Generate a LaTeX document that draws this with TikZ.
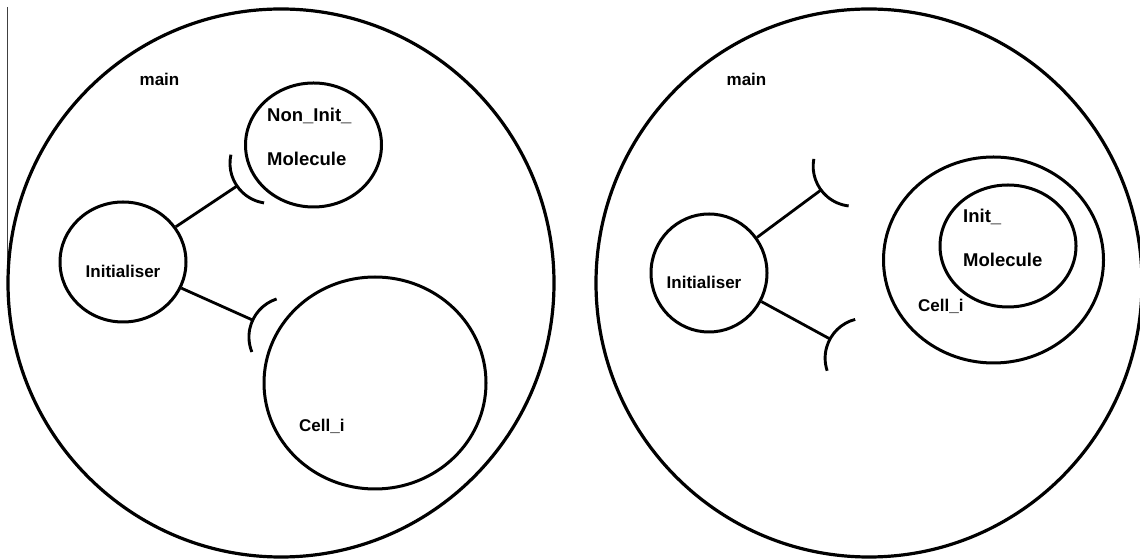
\documentclass[tikz,border=0pt]{standalone}
\usepackage{fontspec}
\setmainfont{Liberation Sans}
\usetikzlibrary{shapes.geometric}
% socket arc: #1 = point where the wire ends, #2 = direction (deg) from arc centre to that point
\newcommand\sockarc[2]{%
  \draw[sockline] (#1) ++(#2+180:40) ++(#2-47:40)
    arc[start angle=#2-47, end angle=#2+47, radius=40];}
\begin{document}
\begin{tikzpicture}[x=1pt,y=1pt,
  frame/.style={draw, ellipse, line width=3.2pt, inner sep=0pt},
  part/.style={draw, ellipse, line width=3pt, inner sep=0pt},
  lbl/.style={inner sep=0pt, font=\fontsize{17}{20}\selectfont\bfseries},
  mlbl/.style={inner sep=0pt, font=\fontsize{18.5}{22}\selectfont\bfseries},
  wire/.style={line width=2.8pt},
  sockline/.style={line width=2.9pt}]
\useasboundingbox (0,0) rectangle (1140,559);

% thin rule at the left edge
\draw[line width=0.9pt, black!75] (7.5,552) -- (7.5,276);

% ---------- left: before initialisation ----------
\node[frame, minimum width=546pt, minimum height=548pt] (mainL) at (281,276) {};
\node[lbl, anchor=base] (mainLt) at (159.5,473) {main};

\node[part, minimum width=126pt, minimum height=120pt] (initL) at (123,297) {};
\node[lbl, anchor=base] (initLt) at (123,281) {Initialiser};

\node[part, minimum width=136pt, minimum height=124pt] (molL) at (313.5,414) {};
\node[mlbl, anchor=base west] (molLa) at (267,437) {Non\_Init\_};
\node[mlbl, anchor=base west] (molLb) at (267,393) {Molecule};

\node[part, minimum width=222pt, minimum height=212pt] (cellL) at (375,176) {};
\node[lbl, anchor=base west] (cellLt) at (299,127) {Cell\_i};

\coordinate (sL1) at (237,373);
\coordinate (sL2) at (252.7,238.9);
\draw[wire] (initL) -- (sL1);
\draw[wire] (initL) -- (sL2);
\sockarc{sL1}{214.5}
\sockarc{sL2}{155}

% ---------- right: after initialisation ----------
\node[frame, minimum width=546pt, minimum height=548pt] (mainR) at (869,276) {};
\node[lbl, anchor=base] (mainRt) at (746.5,473) {main};

\node[part, minimum width=116pt, minimum height=118pt] (initR) at (709,286) {};
\node[lbl, anchor=base] (initRt) at (704,270) {Initialiser};

\node[part, minimum width=220pt, minimum height=206pt] (cellR) at (993.5,299) {};
\node[part, minimum width=136pt, minimum height=122pt] (molR) at (1008,313) {};
\node[mlbl, anchor=base west] (molRa) at (963,336) {Init\_};
\node[mlbl, anchor=base west] (molRb) at (963,292) {Molecule};
\node[lbl, anchor=base west] (cellRt) at (918,247) {Cell\_i};

\coordinate (sR1) at (821,369);
\coordinate (sR2) at (830,220);
\draw[wire] (initR) -- (sR1);
\draw[wire] (initR) -- (sR2);
\sockarc{sR1}{216.5}
\sockarc{sR2}{151.4}
\end{tikzpicture}
\end{document}
